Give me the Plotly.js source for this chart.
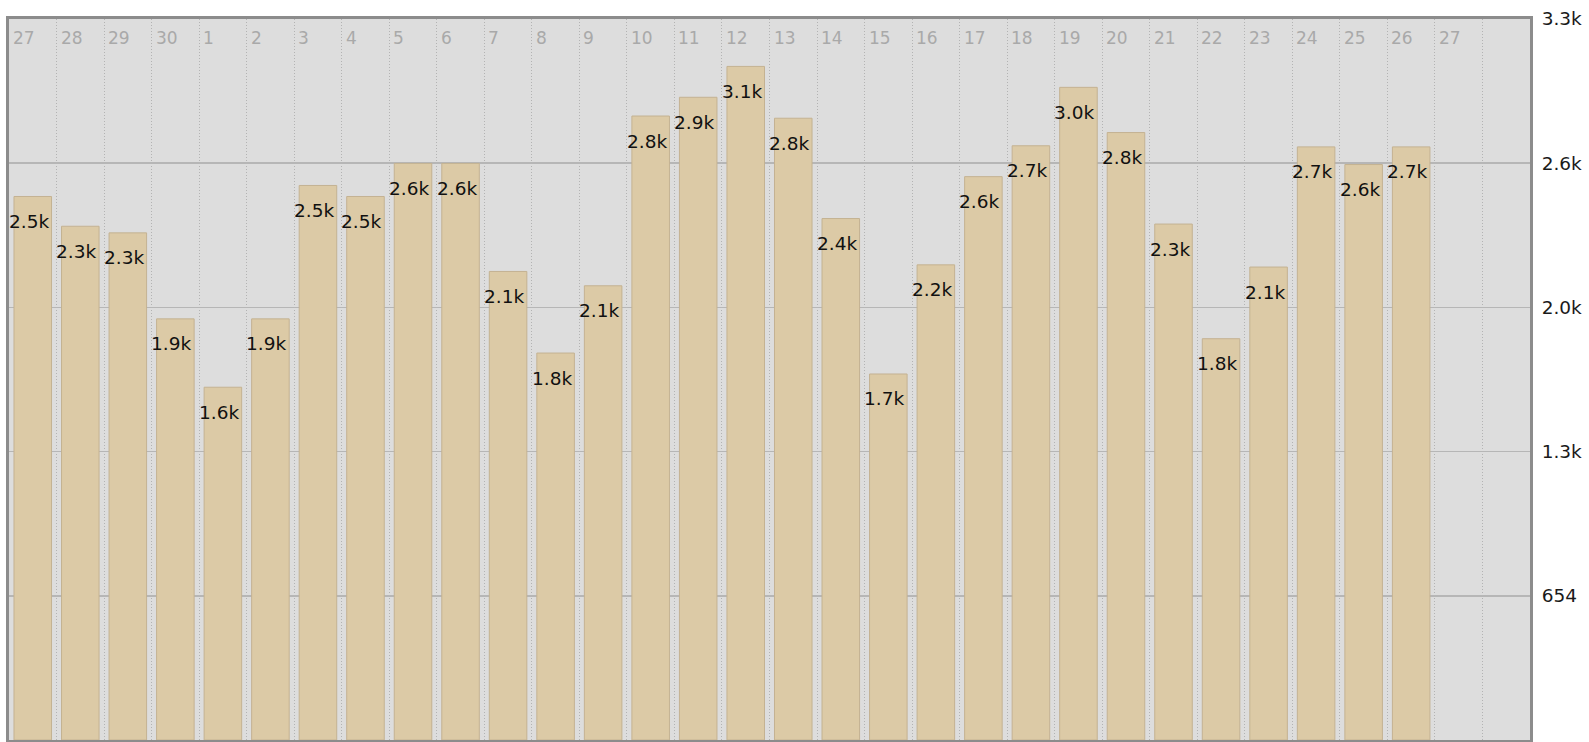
<!DOCTYPE html>
<html>
<head>
<meta charset="utf-8">
<script src="https://cdn.plot.ly/plotly-3.0.1.min.js"></script>
<style>
  html, body { margin: 0; padding: 0; background: #ffffff; }
  #chart { width: 1589px; height: 742px; }
</style>
</head>
<body>
<div id="chart"></div>
<script>
// Day labels across the top (31 labelled columns + 1 empty column)
const dayLabels = ['27','28','29','30','1','2','3','4','5','6','7','8','9','10','11','12','13','14','15','16','17','18','19','20','21','22','23','24','25','26','27'];
// Values of the 30 bars (27 .. 26)
const values = [2465, 2330, 2300, 1910, 1600, 1910, 2515, 2465, 2615, 2615, 2125, 1755, 2060, 2830, 2915, 3055, 2820, 2365, 1660, 2155, 2555, 2695, 2960, 2755, 2340, 1820, 2145, 2690, 2610, 2690];
// Value labels as shown on the bars
const valueLabels = ['2.5k','2.3k','2.3k','1.9k','1.6k','1.9k','2.5k','2.5k','2.6k','2.6k','2.1k','1.8k','2.1k','2.8k','2.9k','3.1k','2.8k','2.4k','1.7k','2.2k','2.6k','2.7k','3.0k','2.8k','2.3k','1.8k','2.1k','2.7k','2.6k','2.7k'];
// Y axis ticks
const yTickVals = [654, 1308, 1962, 2616, 3270];
const yTickText = ['654', '1.3k', '2.0k', '2.6k', '3.3k'];
const yMax = 3270;
const nColumns = 32;

const xs = values.map((v, i) => i);
const boundaries = [];
for (let i = 1; i < nColumns; i++) boundaries.push(i - 0.5);

const FONT = 'DejaVu Sans, Verdana, sans-serif';

const annotations = [];
dayLabels.forEach((d, i) => {
  annotations.push({
    x: i - 0.5, xref: 'x', y: 1, yref: 'paper',
    text: d, showarrow: false, xanchor: 'left', yanchor: 'top',
    xshift: 2, yshift: -7,
    font: {family: FONT, size: 17, color: '#a9a9a9'}
  });
});
values.forEach((v, i) => {
  annotations.push({
    x: i, xref: 'x', y: v, yref: 'y',
    text: valueLabels[i], showarrow: false, xanchor: 'center', yanchor: 'middle',
    xshift: -4, yshift: -25,
    font: {family: FONT, size: 18.5, color: '#111111'}
  });
});

const trace = {
  type: 'bar',
  x: xs,
  y: values,
  width: 0.79,
  marker: {color: '#dccaa6', line: {color: '#c4b292', width: 1}},
  hoverinfo: 'none'
};

const layout = {
  width: 1589, height: 742,
  margin: {l: 9, r: 59, t: 19, b: 2, pad: 0},
  paper_bgcolor: '#ffffff',
  plot_bgcolor: '#dddddd',
  showlegend: false,
  bargap: 0,
  xaxis: {
    range: [-0.5, nColumns - 0.5],
    tickmode: 'array', tickvals: boundaries,
    showticklabels: false, ticks: '',
    showgrid: true, gridcolor: '#b3b3b3', gridwidth: 1, griddash: '1px,2px',
    zeroline: false,
    showline: true, mirror: true, linecolor: '#8c8c8c', linewidth: 3,
    fixedrange: true
  },
  yaxis: {
    range: [0, yMax],
    side: 'right',
    tickmode: 'array', tickvals: yTickVals, ticktext: yTickText,
    ticks: '', ticklabelstandoff: 5,
    tickfont: {family: FONT, size: 18.5, color: '#1a1a1a'},
    showgrid: true, gridcolor: '#b6b6b6', gridwidth: 1.5,
    zeroline: false,
    showline: true, mirror: true, linecolor: '#8c8c8c', linewidth: 3,
    fixedrange: true
  },
  annotations: annotations
};

Plotly.newPlot('chart', [trace], layout, {displayModeBar: false, staticPlot: true});
</script>
</body>
</html>
